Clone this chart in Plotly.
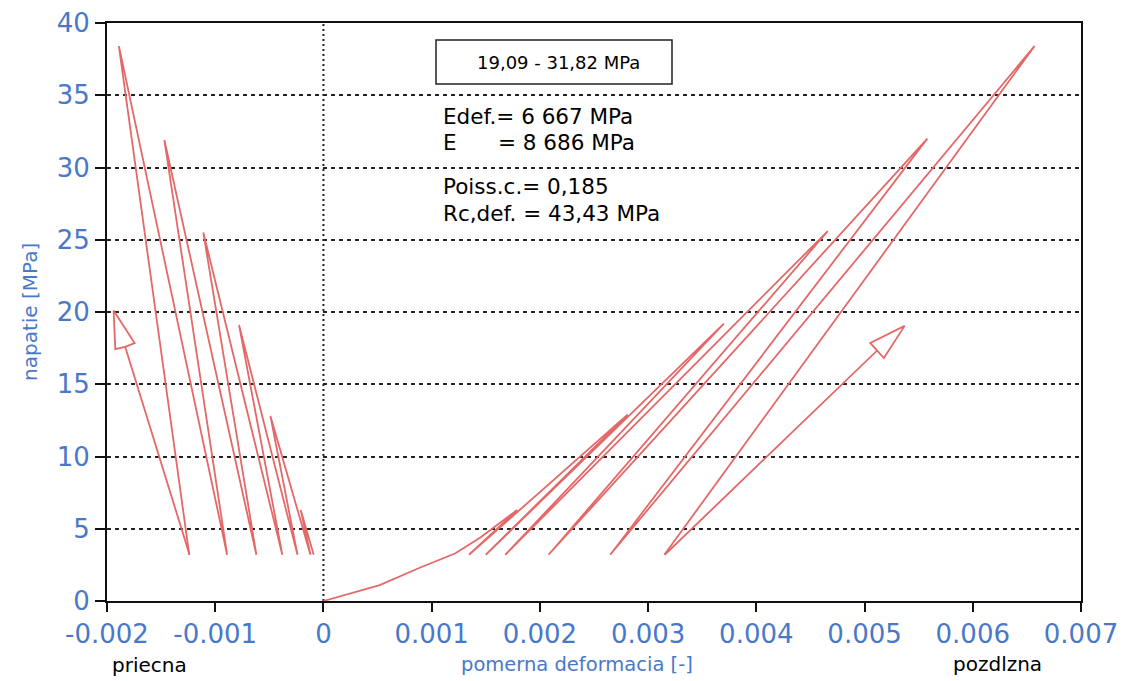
import plotly.graph_objects as go

# ---------------- data ----------------
# longitudinal strain (pozdlzna) – initial loading branch
init_strain_long = [0.0, 0.00052, 0.00089, 0.00122, 0.00145, 0.00163]
init_stress_long = [0.0, 1.1, 2.3, 3.3, 4.4, 5.4]
# cycle peaks
peak_strain_long = [0.00179, 0.00281, 0.00370, 0.00466, 0.00558, 0.00657]
peak_stress_long = [6.3, 12.9, 19.2, 25.6, 32.0, 38.4]
# end points of unloading
unload_strain_long = [0.001345, 0.00150, 0.00168, 0.00208, 0.00265, 0.00315]
unload_stress_long = [3.2, 3.2, 3.2, 3.2, 3.2, 3.2]

# lateral strain (priecna)
start_strain_lat = [-0.00009]
start_stress_lat = [3.2]
peak_strain_lat = [-0.00021, -0.00049, -0.00078, -0.00111, -0.00147, -0.00189]
peak_stress_lat = [6.3, 12.8, 19.1, 25.5, 31.9, 38.4]
unload_strain_lat = [-0.00012, -0.00024, -0.00038, -0.00062, -0.00089, -0.00124]
unload_stress_lat = [3.2, 3.2, 3.2, 3.2, 3.2, 3.2]

# direction arrows (shaft start, base middle, base corner, tip, base corner, base middle)
arrow_long_x = [0.003154, 0.005116, 0.005053, 0.005370, 0.005179, 0.005116]
arrow_long_y = [3.2, 17.33, 17.85, 19.04, 16.81, 17.33]
arrow_lat_x = [-0.001237, -0.001832, -0.001923, -0.001939, -0.001745, -0.001832]
arrow_lat_y = [3.2, 17.59, 17.43, 20.10, 17.85, 17.59]

x_tickvals = [-0.002, -0.001, 0, 0.001, 0.002, 0.003, 0.004, 0.005, 0.006, 0.007]
x_ticktext = ["-0.002", "-0.001", "0", "0.001", "0.002", "0.003", "0.004", "0.005", "0.006", "0.007"]
y_tickvals = [0, 5, 10, 15, 20, 25, 30, 35, 40]

box_text = "19,09 - 31,82 MPa"
info_lines = ["Edef.= 6 667 MPa", "E", "= 8 686 MPa", "Poiss.c.= 0,185", "Rc,def. = 43,43 MPa"]

# ---------------- build paths ----------------
def cycle_path(sx, sy, px, py, ux, uy):
    xs, ys = list(sx), list(sy)
    for a, b, c, d in zip(px, py, ux, uy):
        xs += [a, c]
        ys += [b, d]
    return xs, ys

long_x, long_y = cycle_path(init_strain_long, init_stress_long,
                            peak_strain_long, peak_stress_long,
                            unload_strain_long, unload_stress_long)
lat_x, lat_y = cycle_path(start_strain_lat, start_stress_lat,
                          peak_strain_lat, peak_stress_lat,
                          unload_strain_lat, unload_stress_lat)

RED = "rgb(228,104,104)"
BLUE = "#4a78c8"
FONT = "DejaVu Sans"

fig = go.Figure()
for xs, ys in [(long_x, long_y), (lat_x, lat_y), (arrow_long_x, arrow_long_y), (arrow_lat_x, arrow_lat_y)]:
    fig.add_trace(go.Scatter(x=xs, y=ys, mode="lines",
                             line=dict(color=RED, width=1.8),
                             hoverinfo="skip", showlegend=False))

W, H = 1122, 681
L, R, T, B = 107, 41, 23, 80
PW, PH = W - L - R, H - T - B

def pxx(x):
    return (x - L) / PW

def pyy(y):
    return (H - B - y) / PH

ann = []
def text(s, x, y, size, color="black", xanchor="left", angle=0):
    ann.append(dict(text=s, x=pxx(x), y=pyy(y), xref="paper", yref="paper",
                    xanchor=xanchor, yanchor="middle", showarrow=False,
                    textangle=angle, font=dict(family=FONT, size=size, color=color)))

text(box_text, 558, 62, 18, xanchor="center")
fs = 21.5
text(info_lines[0], 441, 116, fs)
text(info_lines[1], 441, 142, fs)
text(info_lines[2], 441 + 2.552 * fs, 142, fs)
text(info_lines[3], 441, 186, fs)
text(info_lines[4], 441, 213, fs)
text("napatie [MPa]", 30, 312, 20, color=BLUE, xanchor="center", angle=-90)
text("pomerna deformacia [-]", 577, 664, 19.5, color=BLUE, xanchor="center")
text("priecna", 149, 665, 20, xanchor="center")
text("pozdlzna", 997, 664, 20, xanchor="center")

fig.update_layout(
    width=W, height=H,
    margin=dict(l=L, r=R, t=T, b=B, pad=0, autoexpand=False),
    paper_bgcolor="white", plot_bgcolor="white",
    annotations=ann,
    shapes=[
        dict(type="line", xref="x", yref="paper", x0=0, x1=0, y0=0, y1=1,
             line=dict(color="#222", width=2, dash="2px,3px"), layer="below"),
        dict(type="rect", xref="paper", yref="paper",
             x0=pxx(436), x1=pxx(672), y0=pyy(84), y1=pyy(40),
             line=dict(color="#222", width=1.5), fillcolor="white", layer="above"),
    ],
    xaxis=dict(range=[-0.002, 0.007], tickvals=x_tickvals, ticktext=x_ticktext,
               showline=True, linecolor="#111", linewidth=2, mirror=True,
               ticks="outside", ticklen=9, tickwidth=1.5, tickcolor="#111",
               showgrid=False, zeroline=False, automargin=False,
               tickfont=dict(family=FONT, size=26, color=BLUE)),
    yaxis=dict(range=[0, 40], tickvals=y_tickvals,
               showline=True, linecolor="#111", linewidth=2, mirror=True,
               ticks="outside", ticklen=10, tickwidth=1.5, tickcolor="#111",
               showgrid=True, gridcolor="#222", gridwidth=2, griddash="4px,4px",
               zeroline=False, automargin=False,
               tickfont=dict(family=FONT, size=26, color=BLUE)),
)

fig.write_html("out.html")
